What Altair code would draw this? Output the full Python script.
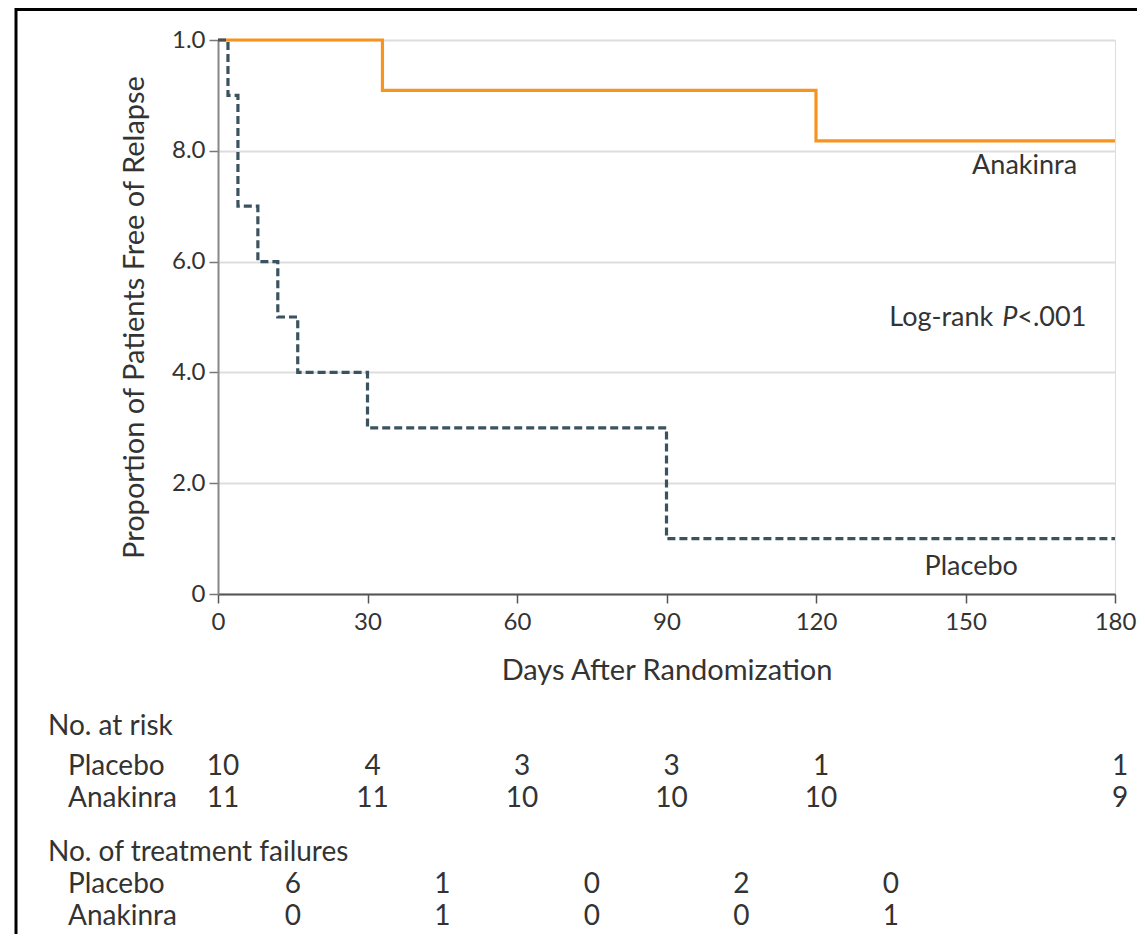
import altair as alt
import pandas as pd

# ---- data ----
placebo_days = [0, 2, 4, 8, 12, 16, 30, 90, 180]
placebo_surv = [1.0, 0.9, 0.7, 0.6, 0.5, 0.4, 0.3, 0.1, 0.1]
anakinra_days = [0, 33, 120, 180]
anakinra_surv = [1.0, 0.909, 0.818, 0.818]

x_ticks = [0, 30, 60, 90, 120, 150, 180]
y_ticks = [0, 0.2, 0.4, 0.6, 0.8, 1.0]
y_tick_labels = ["0", "2.0", "4.0", "6.0", "8.0", "1.0"]

risk_days = [0, 30, 60, 90, 120, 180]
risk_placebo = [10, 4, 3, 3, 1, 1]
risk_anakinra = [11, 11, 10, 10, 10, 9]
fail_days = [15, 45, 75, 105, 135]
fail_placebo = [6, 1, 0, 2, 0]
fail_anakinra = [0, 1, 0, 0, 1]

FONT = "Lato"
TXT = "#333333"
FS = 27       # in-plot annotations
FS_T = 28     # risk table
FS_AX = 29    # axis titles
FS_TICK = 24
ORANGE = "#F7941D"
SLATE = "#3B535E"

placebo_df = pd.DataFrame({"day": placebo_days, "surv": placebo_surv})
anakinra_df = pd.DataFrame({"day": anakinra_days, "surv": anakinra_surv})

label_expr = "[" + ",".join("'%s'" % s for s in y_tick_labels) + "][round(datum.value*5)]"

x_enc = alt.X(
    "day:Q",
    scale=alt.Scale(domain=[0, 180], nice=False, zero=False),
    axis=alt.Axis(
        values=x_ticks, title="Days After Randomization", grid=False,
        domainColor="#555555", domainWidth=2, tickColor="#555555", tickWidth=1.5,
        tickSize=9, labelFontSize=FS_TICK, labelPadding=7, labelColor=TXT,
        labelFlush=False, labelOverlap=False,
        titleFontSize=FS_AX, titleFontWeight="normal", titleColor=TXT, titlePadding=22,
        labelFont=FONT, titleFont=FONT,
    ),
)
y_enc = alt.Y(
    "surv:Q",
    scale=alt.Scale(domain=[0, 1], nice=False, zero=False),
    axis=alt.Axis(
        values=y_ticks, labelExpr=label_expr, title="Proportion of Patients Free of Relapse",
        grid=True, gridColor="#dddddd", gridWidth=2,
        domainColor="#888888", domainWidth=2, tickColor="#777777", tickWidth=1.5,
        tickSize=9, labelFontSize=FS_TICK, labelPadding=4, labelColor=TXT,
        labelFlush=False, labelOverlap=False,
        titleFontSize=FS_AX, titleFontWeight="normal", titleColor=TXT, titlePadding=22,
        labelFont=FONT, titleFont=FONT,
    ),
)

anakinra_line = alt.Chart(anakinra_df).mark_line(
    interpolate="step-after", color=ORANGE, strokeWidth=3.2
).encode(x=x_enc, y=y_enc)

placebo_line = alt.Chart(placebo_df).mark_line(
    interpolate="step-after", color=SLATE, strokeWidth=3.2, strokeDash=[8, 4]
).encode(x="day:Q", y="surv:Q")

# curve annotations
ann_df = pd.DataFrame({
    "day": [172.4, 160.5],
    "surv": [0.772, 0.049],
    "text": ["Anakinra", "Placebo"],
})
ann = alt.Chart(ann_df).mark_text(
    align="right", baseline="middle", fontSize=FS, font=FONT, color=TXT
).encode(x="day:Q", y="surv:Q", text="text:N")

lr_df = pd.DataFrame({"day": [160.4], "surv": [0.498]})
lr_a = alt.Chart(lr_df).mark_text(align="right", baseline="middle", fontSize=FS, font=FONT,
                                  color=TXT, dx=-24, text="Log-rank").encode(x="day:Q", y="surv:Q")
lr_b = alt.Chart(lr_df).mark_text(align="right", baseline="middle", fontSize=FS, font=FONT,
                                  color=TXT, fontStyle="italic", text="P").encode(x="day:Q", y="surv:Q")
lr_c = alt.Chart(lr_df).mark_text(align="left", baseline="middle", fontSize=FS, font=FONT,
                                  color=TXT, text="<.001").encode(x="day:Q", y="surv:Q")

# risk table
def num_row(days, vals, ypix, dx):
    df = pd.DataFrame({"day": days, "n": vals})
    return alt.Chart(df).mark_text(
        align="center", baseline="middle", fontSize=FS_T, font=FONT, color=TXT, dx=dx
    ).encode(x="day:Q", y=alt.value(ypix), text="n:Q")

def label(txt, xpix, ypix):
    return alt.Chart(pd.DataFrame({"t": [txt]})).mark_text(
        align="left", baseline="middle", fontSize=FS_T, font=FONT, color=TXT
    ).encode(x=alt.value(xpix), y=alt.value(ypix), text="t:N")

table = [
    label("No. at risk", -170, 687),
    label("Placebo", -150, 727),
    label("Anakinra", -150, 759),
    num_row(risk_days, risk_placebo, 727, 5),
    num_row(risk_days, risk_anakinra, 759, 5),
    label("No. of treatment failures", -170, 813),
    label("Placebo", -150, 845),
    label("Anakinra", -150, 877),
    num_row(fail_days, fail_placebo, 845, 0),
    num_row(fail_days, fail_anakinra, 877, 0),
]

one = pd.DataFrame({"a": [0]})
frame_top = alt.Chart(one).mark_rule(color="black", strokeWidth=3).encode(
    x=alt.value(-203), x2=alt.value(930), y=alt.value(-30.5))
frame_left = alt.Chart(one).mark_rule(color="black", strokeWidth=3).encode(
    x=alt.value(-202), y=alt.value(-32), y2=alt.value(900))

chart = alt.layer(
    anakinra_line, placebo_line, ann, lr_a, lr_b, lr_c, *table, frame_top, frame_left
).properties(
    width=897, height=554,
    autosize=alt.AutoSizeParams(type="none"),
    padding={"left": 210, "top": 32, "right": 22, "bottom": 340},
).configure_view(stroke=None).configure(font=FONT)

chart.save("out.html", embed_options={"renderer": "svg", "actions": False})
